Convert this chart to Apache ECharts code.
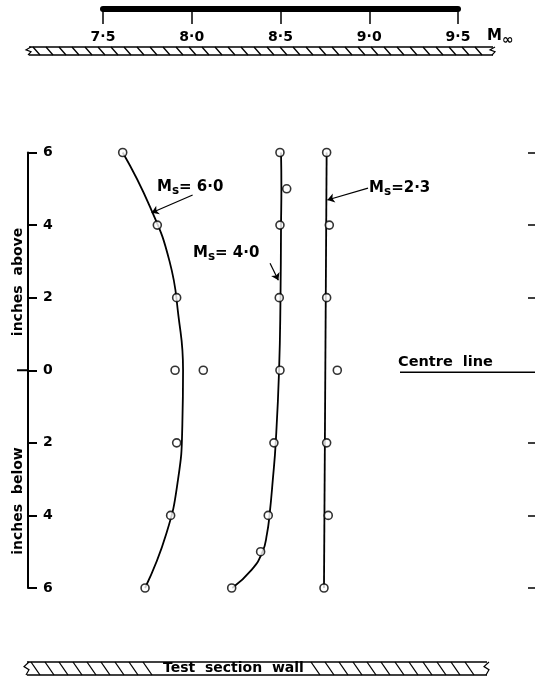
<!DOCTYPE html>
<html><head><meta charset="utf-8">
<script src="https://cdn.jsdelivr.net/npm/echarts@6/dist/echarts.min.js"></script>
<style>html,body{margin:0;padding:0;background:#fff}#c{width:535px;height:680px}</style>
</head><body><div id="c"></div><script>
// ---- data ----
const machTicks = [7.5, 8.0, 8.5, 9.0, 9.5];
const heightTicks = [-6, -4, -2, 0, 2, 4, 6];
const rightTicks = [-6, -4, -2, 2, 4, 6];

// measured points (inches from centre line, free-stream Mach number)
const ms6PtY = [6, 4, 2, 0, 0, -2, -4, -6];
const ms6PtM = [7.611, 7.806, 7.915, 7.906, 8.065, 7.915, 7.881, 7.737];
const ms4PtY = [6, 5, 4, 2, 0, -2, -4, -5, -6];
const ms4PtM = [8.497, 8.535, 8.497, 8.493, 8.497, 8.463, 8.431, 8.388, 8.225];
const ms23PtY = [6, 4, 2, 0, -2, -4, -6];
const ms23PtM = [8.760, 8.775, 8.760, 8.820, 8.760, 8.769, 8.745];

// faired curves
const ms6CurveY = [6, 4.5, 3, 1.5, 0, -1.5, -3, -4.5, -6];
const ms6CurveM = [7.611, 7.765, 7.875, 7.925, 7.951, 7.947, 7.923, 7.857, 7.737];
const ms4CurveY = [6, 5, 4, 2, 0, -2, -3, -4, -4.5, -5, -5.5, -6];
const ms4CurveM = [8.503, 8.505, 8.503, 8.500, 8.492, 8.473, 8.457, 8.438, 8.424, 8.399, 8.337, 8.228];
const ms23CurveY = [6, -6];
const ms23CurveM = [8.760, 8.745];

// annotations
const msLabels = ['= 6·0', '= 4·0', '=2·3'];
const msLabelPos = [[7.804, 5.05], [8.007, 3.23], [8.999, 5.02]];
const msArrowFrom = [[8.005, 4.83], [8.441, 2.95], [8.993, 5.02]];
const msArrowTo = [[7.774, 4.34], [8.488, 2.48], [8.764, 4.69]];

// ---- chart ----
const FONT = 'DejaVu Sans';
const BLK = '#000';
const pairs = (ms, ys) => ms.map((m, i) => [m, ys[i]]);
const fmtDot = v => v.toFixed(1).replace('.', '·');

const chart = echarts.init(document.getElementById('c'), null, {renderer: 'canvas'});

function curveSeries(ms, ys, idx) {
  return {
    type: 'line', data: pairs(ms, ys), smooth: 0.5, showSymbol: false, symbol: 'none',
    lineStyle: {color: BLK, width: 1.8}, z: 2, silent: true,
    markLine: {
      silent: true, symbol: ['none', 'arrow'], symbolSize: 7,
      label: {show: false},
      lineStyle: {color: BLK, width: 1.2, type: 'solid'},
      data: [[{coord: msArrowFrom[idx]}, {coord: msArrowTo[idx]}]]
    }
  };
}
function pointSeries(ms, ys) {
  return {
    type: 'scatter', data: pairs(ms, ys), symbol: 'circle', symbolSize: 8, z: 3,
    itemStyle: {color: '#fff', borderColor: BLK, borderWidth: 1.6}
  };
}

const txt = {color: BLK, fontFamily: FONT, fontSize: 14, fontWeight: 'bold'};

chart.setOption({
  animation: false,
  backgroundColor: '#fff',
  grid: {left: 103, right: 77, top: 152.5, bottom: 92},
  xAxis: {
    type: 'value', position: 'top', min: 7.5, max: 9.5, interval: 0.5, offset: 143.5,
    axisLine: {show: true, onZero: false, lineStyle: {color: BLK, width: 6}},
    axisTick: {show: true, inside: true, length: 15, lineStyle: {color: BLK, width: 1.5}},
    axisLabel: Object.assign({inside: true, margin: 21, formatter: fmtDot}, txt),
    splitLine: {show: false}
  },
  yAxis: [{
    type: 'value', position: 'left', min: -6, max: 6, interval: 2, offset: 75,
    axisLine: {show: true, onZero: false, lineStyle: {color: BLK, width: 2}},
    axisTick: {show: true, inside: true, length: 9, lineStyle: {color: BLK, width: 2}},
    axisLabel: Object.assign({inside: true, margin: 15, formatter: v => String(Math.abs(v))}, txt),
    splitLine: {show: false}
  }, {
    type: 'value', position: 'right', min: -6, max: 6, interval: 2, offset: 70,
    axisLine: {show: false},
    axisTick: {show: true, inside: false, length: 7, customValues: rightTicks, lineStyle: {color: BLK, width: 1.5}},
    axisLabel: {show: false},
    splitLine: {show: false}
  }],
  series: [
    curveSeries(ms6CurveM, ms6CurveY, 0),
    curveSeries(ms4CurveM, ms4CurveY, 1),
    curveSeries(ms23CurveM, ms23CurveY, 2),
    pointSeries(ms6PtM, ms6PtY),
    pointSeries(ms4PtM, ms4PtY),
    pointSeries(ms23PtM, ms23PtY)
  ]
});

// ---- decorations ----
const toPx = p => chart.convertToPixel({xAxisIndex: 0, yAxisIndex: 0}, p);
const g = [];
const ln = (x1, y1, x2, y2, w) => g.push({type: 'line', silent: true, shape: {x1, y1, x2, y2}, style: {stroke: BLK, lineWidth: w || 1.2}});

function wall(x0, x1, y0, y1, step, slant, gap) {
  ln(x0, y0, x1, y0, 1.4); ln(x0, y1, x1, y1, 1.4);
  for (let x = x0 + 4; x + slant < x1 - 2; x += step) {
    if (gap && x + slant > gap[0] && x < gap[1]) continue;
    ln(x, y0, x + slant, y1, 1.3);
  }
  const h = y1 - y0;
  [x0, x1].forEach(xe => {
    g.push({type: 'polyline', silent: true, shape: {points: [[xe + 2, y0], [xe - 3, y0 + h * 0.35], [xe + 2, y0 + h * 0.6], [xe - 1, y1]]},
      style: {stroke: BLK, fill: null, lineWidth: 1.2}});
  });
}
wall(29, 493, 47, 55, 13, 7, null);
wall(27, 487, 662, 675, 14, 9, [163, 298]);
g.push({type: 'text', silent: true, style: Object.assign({x: 163, y: 668, text: 'Test  section  wall', align: 'left', verticalAlign: 'middle'}, txt, {fontSize: 14})});

// zero tick crossing the height axis
const z0 = toPx([7.5, 0]);
ln(17, z0[1], 29, z0[1], 2);

// M infinity axis title
g.push({type: 'text', silent: true, style: {x: 487, y: 36, text: '{m|M}{s|∞}', verticalAlign: 'middle',
  rich: {m: Object.assign({}, txt, {fontSize: 15}), s: Object.assign({}, txt, {fontSize: 14, padding: [9, 0, 0, 0]})}}});

// y axis titles
g.push({type: 'text', silent: true, x: 18, y: 282, rotation: Math.PI / 2,
  style: Object.assign({x: 0, y: 0, text: 'inches  above', align: 'center', verticalAlign: 'middle'}, txt)});
g.push({type: 'text', silent: true, x: 18, y: 501, rotation: Math.PI / 2,
  style: Object.assign({x: 0, y: 0, text: 'inches  below', align: 'center', verticalAlign: 'middle'}, txt)});

// centre line
const c0 = toPx([8.5, 0]);
g.push({type: 'text', silent: true, style: Object.assign({x: 398, y: c0[1] - 8, text: 'Centre  line', verticalAlign: 'middle'}, txt, {fontSize: 14.5})});
ln(400, c0[1] + 2, 535, c0[1] + 2, 1.6);

// Ms labels
msLabels.forEach((t, i) => {
  const p = toPx(msLabelPos[i]);
  g.push({type: 'text', silent: true, style: {x: p[0], y: p[1], text: '{m|M}{s|s}{v|' + t + '}', verticalAlign: 'middle',
    rich: {m: Object.assign({}, txt, {fontSize: 15}), s: Object.assign({}, txt, {fontSize: 12, padding: [8, 0, 0, 0]}), v: Object.assign({}, txt, {fontSize: 15})}}});
});

chart.setOption({graphic: g});
</script></body></html>
